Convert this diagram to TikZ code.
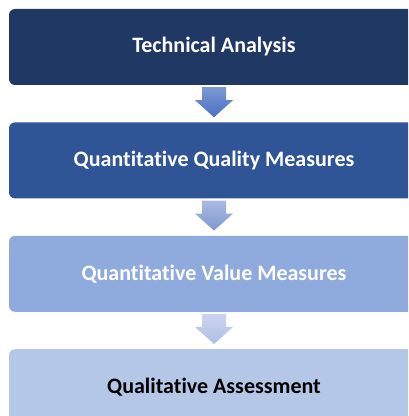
\documentclass[tikz,border=0pt]{standalone}
\usepackage{fontspec}
\setmainfont[Ligatures=NoCommon]{Carlito}
\usepackage{xcolor}
\definecolor{techc}{HTML}{203864}
\definecolor{qualc}{HTML}{2F5597}
\definecolor{valc}{HTML}{8FAADC}
\definecolor{assc}{HTML}{B4C7E7}
\definecolor{arrat}{HTML}{7D99D4}
\definecolor{arrab}{HTML}{4A70C2}
\definecolor{arrbt}{HTML}{AABAE1}
\definecolor{arrbb}{HTML}{7F98D0}
\definecolor{arrct}{HTML}{CCD5EF}
\definecolor{arrcb}{HTML}{AFBEE4}
\usetikzlibrary{positioning,calc}
\tikzset{
  stage/.style={rounded corners=6pt,minimum width=410pt,minimum height=76pt,inner sep=0pt,
    font=\fontsize{22}{26}\selectfont\bfseries,text=white},
}
\begin{document}
\begin{tikzpicture}[x=1pt,y=1pt]
  \useasboundingbox (0,0) rectangle (408,416);
  \clip (0,0) rectangle (408,416);
  \node[stage,fill=techc] (ta) at (214,369) {Technical Analysis};
  \node[stage,fill=qualc,below=37pt of ta] (qq) {Quantitative Quality Measures};
  \node[stage,fill=valc,below=37pt of qq] (qv) {Quantitative Value Measures};
  \node[stage,fill=assc,text=black,below=37pt of qv] (qa) {Qualitative Assessment};
  \foreach \a/\b/\ct/\cb in {ta/qq/arrat/arrab,qq/qv/arrbt/arrbb,qv/qa/arrct/arrcb}
    \shade[top color=\ct,bottom color=\cb]
      ($(\a.south)+(-12,-2)$) -- ($(\a.south)+(12,-2)$) -- ($(\b.north)+(12,22)$)
      -- ($(\b.north)+(19,22)$) -- ($(\b.north)+(0,5)$) -- ($(\b.north)+(-19,22)$)
      -- ($(\b.north)+(-12,22)$) -- cycle;
\end{tikzpicture}
\end{document}
